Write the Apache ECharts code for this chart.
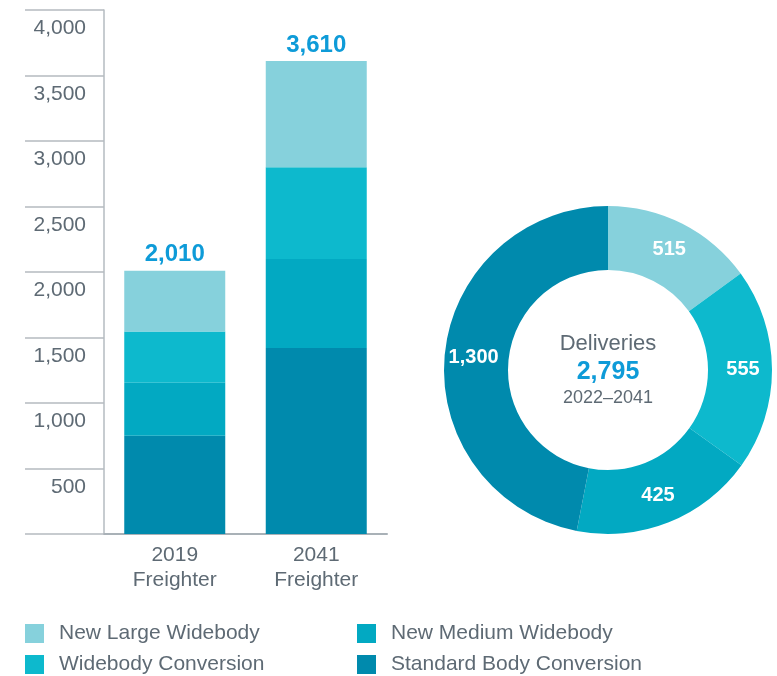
<!DOCTYPE html>
<html>
<head>
<meta charset="utf-8">
<script src="https://cdn.jsdelivr.net/npm/echarts@6/dist/echarts.min.js"></script>
<style>
  html, body { margin: 0; padding: 0; background: #fff; }
  #chart { width: 777px; height: 676px; }
</style>
</head>
<body>
<div id="chart"></div>
<script>
// freighter fleet (stacked bars) and deliveries (donut)
const categories = ['2019\nFreighter', '2041\nFreighter'];
const standardBodyConv = [750, 1420];
const newMediumWide = [405, 680];
const widebodyConv = [390, 700];
const newLargeWide = [465, 810];
const totals = [2010, 3610];

const deliveryNames = ['New Large Widebody', 'Widebody Conversion', 'New Medium Widebody', 'Standard Body Conversion'];
const deliveryValues = [515, 555, 425, 1300];
// arc sizes as drawn in the picture (degrees), not exactly proportional to the labels
const sliceSizes = [54, 71.5, 65.5, 169];
const deliveryTotal = 2795;
const deliveryPeriod = '2022–2041';

const colors = {
    'New Large Widebody': '#86d1dc',
    'Widebody Conversion': '#0db9cd',
    'New Medium Widebody': '#02a9c2',
    'Standard Body Conversion': '#008aad'
};

const font = "'Liberation Sans', Arial, Helvetica, sans-serif";
const grey = '#5e6a74';
const blue = '#0e9bd8';
const axisGrey = '#b5bbc0';
const fmt = v => v.toLocaleString('en-US');

const pieCenter = [608, 370];

const chart = echarts.init(document.getElementById('chart'));

function barSeries(name, data, withTotal) {
    const s = {
        name: name,
        type: 'bar',
        stack: 'fleet',
        barWidth: 101,
        data: data,
        itemStyle: { color: colors[name] },
        emphasis: { disabled: true }
    };
    if (withTotal) {
        s.label = {
            show: true,
            position: 'top',
            distance: 4,
            color: blue,
            fontSize: 24,
            fontWeight: 'bold',
            formatter: p => fmt(totals[p.dataIndex])
        };
    }
    return s;
}

// one legend per entry so the 2x2 layout stays fixed
function legendItem(left, top, name) {
    return {
        left: left,
        top: top,
        padding: 0,
        itemWidth: 19,
        itemHeight: 19,
        icon: 'rect',
        data: [name],
        textStyle: { color: grey, fontSize: 21, padding: [0, 0, 0, 10] }
    };
}

const option = {
    animation: false,
    textStyle: { fontFamily: font },
    grid: { left: 104, right: 390, top: 10, bottom: 142 },
    xAxis: {
        type: 'category',
        data: categories,
        axisLine: { lineStyle: { color: '#a9b1b7', width: 2 } },
        axisTick: { show: false },
        axisLabel: { color: grey, fontSize: 21, lineHeight: 25, margin: 9 }
    },
    yAxis: {
        type: 'value',
        min: 0,
        max: 4000,
        interval: 500,
        splitLine: { show: false },
        axisLine: { show: true, lineStyle: { color: axisGrey, width: 1.5 } },
        axisTick: { show: true, length: 79, lineStyle: { color: axisGrey, width: 1.5 } },
        axisLabel: {
            color: grey,
            fontSize: 21,
            margin: 18,
            verticalAlign: 'top',
            padding: [8, 0, 0, 0],
            showMaxLabel: true,
            formatter: v => (v === 0 ? '' : fmt(v))
        }
    },
    legend: [
        legendItem(25, 623, 'New Large Widebody'),
        legendItem(25, 654, 'Widebody Conversion'),
        legendItem(357, 623, 'New Medium Widebody'),
        legendItem(357, 654, 'Standard Body Conversion')
    ],
    graphic: [
        {
            type: 'text', x: pieCenter[0], y: pieCenter[1] - 26,
            style: { text: 'Deliveries', align: 'center', verticalAlign: 'middle', fill: grey, fontSize: 22, fontFamily: font }
        },
        {
            type: 'text', x: pieCenter[0], y: pieCenter[1] + 2,
            style: { text: fmt(deliveryTotal), align: 'center', verticalAlign: 'middle', fill: blue, fontSize: 25, fontWeight: 'bold', fontFamily: font }
        },
        {
            type: 'text', x: pieCenter[0], y: pieCenter[1] + 28,
            style: { text: deliveryPeriod, align: 'center', verticalAlign: 'middle', fill: grey, fontSize: 18, fontFamily: font }
        }
    ],
    series: [
        barSeries('Standard Body Conversion', standardBodyConv),
        barSeries('New Medium Widebody', newMediumWide),
        barSeries('Widebody Conversion', widebodyConv),
        barSeries('New Large Widebody', newLargeWide, true),
        {
            type: 'pie',
            center: pieCenter,
            radius: [100, 164],
            startAngle: 90,
            clockwise: true,
            emphasis: { disabled: true },
            label: {
                show: true,
                position: 'inside',
                color: '#fff',
                fontSize: 20,
                fontWeight: 'bold',
                formatter: p => fmt(deliveryValues[p.dataIndex])
            },
            labelLine: { show: false },
            data: deliveryNames.map((n, i) => ({
                name: n,
                value: sliceSizes[i],
                itemStyle: { color: colors[n] }
            }))
        }
    ]
};

chart.setOption(option);
</script>
</body>
</html>
